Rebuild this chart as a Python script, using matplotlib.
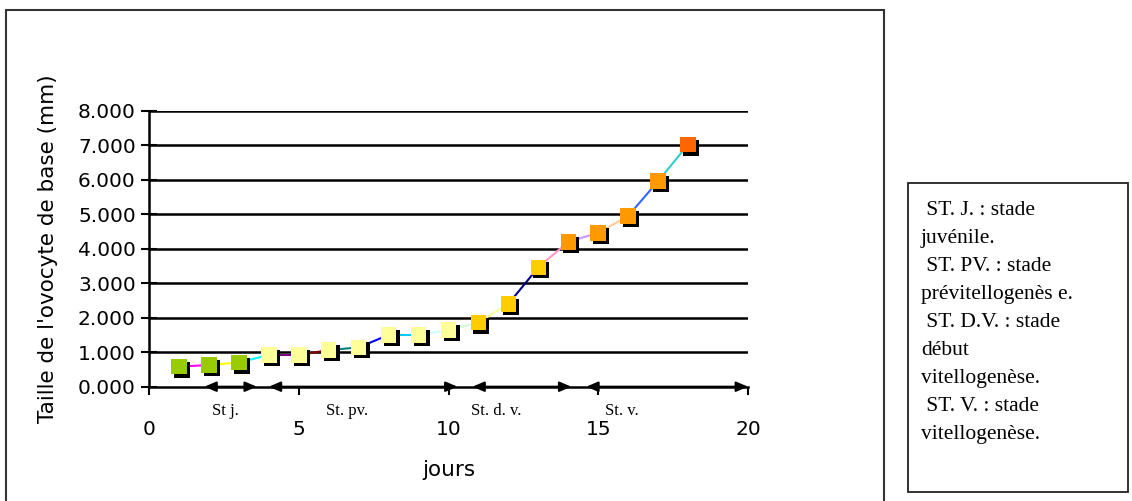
import matplotlib.pyplot as plt
import matplotlib.transforms as mtransforms
from matplotlib.patches import Rectangle

# taille de l'ovocyte de base selon les jours
jours = [1, 2, 3, 4, 5, 6, 7, 8, 9, 10, 11, 12, 13, 14, 15, 16, 17, 18]
taille = [0.58, 0.63, 0.70, 0.92, 0.92, 1.06, 1.14, 1.50, 1.50,
          1.64, 1.86, 2.40, 3.46, 4.20, 4.46, 4.95, 5.96, 7.02]

couleurs_points = ["#99CC00"] * 3 + ["#FFFF99"] * 7 + ["#FFCC00"] * 3 + ["#FF9900"] * 4 + ["#FF6600"]
couleurs_segments = ["#FF00FF", "#FFFF00", "#00FFFF", "#800080", "#800000", "#008080",
                     "#0000FF", "#00CCFF", "#CCFFFF", "#CCFFCC", "#FFFF99", "#000080",
                     "#FF99CC", "#CC99FF", "#FFCC99", "#3366FF", "#33CCCC"]

# stades le long de l'axe des jours
stades = ["St j.", "St. pv.", "St. d. v.", "St. v."]
stade_debut = [1.85, 4.0, 10.8, 14.6]
stade_fin = [3.6, 10.3, 14.1, 20.0]
stade_x_texte = [2.55, 6.6, 11.6, 15.8]

legende = [" ST. J. : stade", "juvénile.", " ST. PV. : stade", "prévitellogenès e.",
           " ST. D.V. : stade", "début", "vitellogenèse.", " ST. V. : stade", "vitellogenèse."]

W, H = 1132, 501
fig = plt.figure(figsize=(W / 100, H / 100), dpi=100)
fig.patch.set_facecolor("white")

# cadres
fig.patches.append(Rectangle((6 / W, -0.05), 878 / W, 1.05 - 10 / H, transform=fig.transFigure,
                             fill=False, edgecolor="#333333", lw=1.5))
fig.patches.append(Rectangle((908 / W, 1 - 492 / H), 220 / W, 309 / H, transform=fig.transFigure,
                             fill=False, edgecolor="#222222", lw=1.3))

ax = fig.add_axes([149 / W, 1 - 386.7 / H, 599 / W, 276 / H])
ax.set_xlim(0, 20)
ax.set_ylim(0, 8)

for s in ["top", "right"]:
    ax.spines[s].set_visible(False)
ax.spines["left"].set_linewidth(1.8)
ax.spines["bottom"].set_linewidth(1.8)

for v in range(1, 9):
    ax.axhline(v, color="black", lw=1.8, zorder=1)

for i in range(len(jours) - 1):
    ax.plot(jours[i:i + 2], taille[i:i + 2], color=couleurs_segments[i], lw=1.5, zorder=2)

ombre = mtransforms.offset_copy(ax.transData, fig=fig, x=3, y=-3, units="dots")
ax.scatter(jours, taille, marker="s", s=125, color="black", transform=ombre, zorder=3, lw=0)
ax.scatter(jours, taille, marker="s", s=125, color=couleurs_points, zorder=4, lw=0)

for lab, a, b, xt in zip(stades, stade_debut, stade_fin, stade_x_texte):
    ax.annotate("", xy=(b, 0), xytext=(a, 0), annotation_clip=False,
                arrowprops=dict(arrowstyle="<|-|>,head_length=0.7,head_width=0.3",
                                color="black", lw=1.5, shrinkA=0, shrinkB=0))
    ax.text(xt, -0.7, lab, ha="center", va="center", fontsize=12,
            family="Liberation Serif", clip_on=False)

ax.set_xticks([0, 5, 10, 15, 20])
ax.set_yticks(range(0, 9))
ax.yaxis.set_major_formatter(plt.FormatStrFormatter("%.3f"))
ax.tick_params(axis="x", direction="out", length=6, width=1.5, pad=18, labelsize=14.5)
ax.tick_params(axis="y", direction="inout", length=11, width=1.5, pad=4, labelsize=14.5)

ax.set_xlabel("jours", fontsize=15.5, labelpad=15)
ax.set_ylabel("Taille de l'ovocyte de base (mm)", fontsize=15.5, labelpad=14)

fig.text(921 / W, 1 - 201 / H, "\n".join(legende), ha="left", va="top",
         fontsize=15.5, family="Liberation Serif", linespacing=1.64)

fig.savefig("out.png", dpi=100)
